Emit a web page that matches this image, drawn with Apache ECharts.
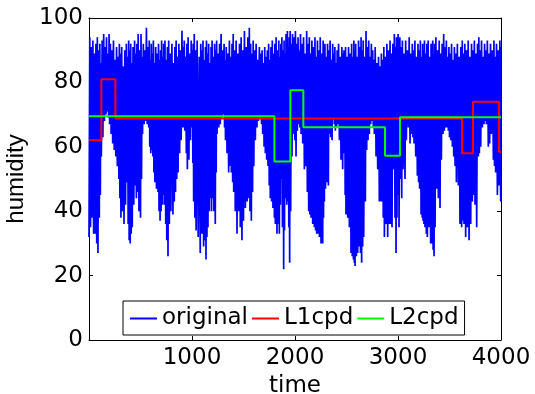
<!DOCTYPE html>
<html><head><meta charset="utf-8">
<script src="https://cdn.jsdelivr.net/npm/echarts@6/dist/echarts.min.js"></script>
<style>html,body{margin:0;padding:0;background:#fff}#c{width:535px;height:394px}</style>
</head><body><div id="c"></div>
<script>
// x tick labels / y tick labels
const xTicks = [1000, 2000, 3000, 4000];
const yTicks = [0, 20, 40, 60, 80, 100];

// original humidity signal, read as [time, local low, local high]
const original = [
[0,32,94],[15,35,91],[30,38,93],[45,33,89],[60,33,92],[75,30,94],[87,27,90],[100,38,92],[110,45,86],[120,57,93],[135,63,95],[150,68,91],[165,70,94],[175,71,89],[190,69,95],[200,67,92],[215,64,90],[230,61,93],[245,59,87],[260,57,91],[275,54,88],[290,50,92],[300,44,89],[310,38,91],[325,40,85],[340,36,90],[355,42,92],[370,49,88],[380,36,93],[390,31,90],[400,30,92],[410,33,86],[420,35,91],[435,42,93],[450,48,89],[460,44,92],[470,46,95],[485,40,90],[500,38,95],[510,50,88],[520,64,92],[535,67,90],[550,68,97],[565,67,91],[580,66,93],[590,60,87],[600,58,92],[610,59,89],[620,57,93],[630,52,86],[640,49,91],[655,47,89],[670,46,92],[680,40,87],[690,37,90],[700,40,93],[710,42,88],[720,45,92],[730,42,93],[745,36,87],[755,31,91],[767,26,93],[780,36,89],[795,40,92],[815,39,86],[828,43,91],[840,46,93],[852,50,88],[865,52,92],[880,58,90],[895,62,96],[910,66,91],[920,66,93],[930,65,88],[945,58,92],[955,53,94],[970,56,89],[985,62,93],[1000,66,90],
[1008,55,92],[1016,43,95],[1028,38,90],[1040,34,93],[1060,32,88],[1080,27,92],[1090,33,90],[1100,33,93],[1113,29,87],[1125,31,91],[1136,25,93],[1145,32,89],[1155,35,92],[1168,40,86],[1180,44,91],[1190,40,93],[1200,44,88],[1213,40,92],[1226,36,90],[1235,52,93],[1243,64,89],[1260,66,92],[1275,67,95],[1290,69,90],[1307,70,92],[1316,66,87],[1325,62,91],[1340,58,89],[1356,52,93],[1370,54,88],[1382,52,92],[1395,49,95],[1405,46,90],[1420,40,93],[1437,33,89],[1453,40,92],[1469,35,94],[1485,31,90],[1500,37,96],[1518,41,91],[1535,43,94],[1550,44,97],[1563,40,92],[1576,37,89],[1588,46,93],[1600,54,90],[1615,62,92],[1631,66,87],[1645,68,91],[1663,69,89],[1675,67,90],[1686,64,86],[1700,60,91],[1712,58,88],[1725,56,90],[1738,54,92],[1750,48,87],[1760,44,91],[1773,43,93],[1786,41,89],[1800,38,92],[1809,36,94],[1825,33,90],[1838,36,93],[1848,33,88],[1858,42,92],[1867,50,94],[1878,35,90],[1890,22,93],[1898,34,89],[1906,44,95],[1920,42,96],[1932,43,91],[1940,35,94],[1948,24,96],[1958,40,92],[1971,57,95],[1980,64,91],[1987,67,94],[1998,62,96],[2010,57,92],
[2023,65,94],[2036,67,90],[2048,66,95],[2059,64,92],[2075,61,94],[2091,53,89],[2107,54,96],[2120,46,92],[2133,40,94],[2145,39,89],[2156,38,93],[2172,36,91],[2188,35,94],[2200,34,88],[2211,33,93],[2225,33,90],[2237,32,94],[2253,30,89],[2269,30,93],[2277,38,91],[2285,43,92],[2296,47,88],[2308,49,92],[2324,48,90],[2334,64,93],[2347,63,87],[2360,62,92],[2372,69,89],[2382,67,91],[2392,65,86],[2404,66,90],[2415,67,92],[2431,62,88],[2447,56,91],[2463,53,89],[2472,58,90],[2479,59,86],[2487,45,91],[2495,39,88],[2512,38,91],[2528,35,89],[2544,27,92],[2556,26,88],[2567,25,93],[2576,24,90],[2583,23,92],[2596,26,88],[2609,27,93],[2625,29,91],[2636,27,94],[2647,24,90],[2657,29,93],[2667,32,88],[2683,43,96],[2696,59,91],[2709,62,93],[2722,64,88],[2735,67,92],[2748,68,90],[2760,66,87],[2770,64,91],[2787,57,86],[2803,53,88],[2819,43,85],[2832,43,89],[2845,43,87],[2857,38,91],[2868,32,88],[2884,36,92],[2900,32,90],[2916,36,93],[2930,36,89],[2942,35,92],[2958,53,95],[2971,38,91],[2981,27,94],[2990,38,90],[2997,47,95],[3005,45,92],[3010,35,94],
[3026,50,91],[3036,44,93],[3049,53,89],[3068,50,93],[3081,62,90],[3100,66,94],[3117,61,89],[3133,64,92],[3145,63,90],[3156,61,93],[3172,57,88],[3188,51,92],[3200,49,90],[3210,47,93],[3224,39,88],[3235,38,92],[3243,37,90],[3252,36,93],[3262,35,89],[3275,33,92],[3285,32,93],[3301,35,88],[3317,30,92],[3325,32,90],[3333,30,93],[3341,28,89],[3350,26,92],[3360,35,94],[3376,47,90],[3392,44,93],[3408,41,89],[3421,56,92],[3437,64,95],[3450,65,91],[3463,66,93],[3476,66,88],[3489,65,91],[3500,63,89],[3512,62,92],[3528,60,87],[3541,57,91],[3554,54,89],[3567,49,92],[3586,48,88],[3602,36,91],[3618,35,93],[3630,37,89],[3641,36,92],[3657,32,90],[3673,35,93],[3690,31,88],[3706,36,92],[3722,43,90],[3735,45,93],[3748,42,89],[3764,35,92],[3780,57,94],[3790,58,90],[3803,60,93],[3819,66,88],[3835,67,92],[3846,68,90],[3858,67,93],[3877,60,89],[3890,61,92],[3906,64,90],[3926,56,93],[3937,54,88],[3948,52,92],[3965,45,90],[3981,48,93],[3997,43,91]
];

// L1 change-point fit (value held from each time until the next)
const l1Time = [0, 120, 256, 3622, 3728, 3980, 4000];
const l1Hum  = [62, 81, 68.8, 58, 74, 58.5, 58.5];

// L2 change-point fit
const l2Time = [0, 1800, 1955, 2081, 2874, 3019, 4000];
const l2Hum  = [69.5, 55.4, 77.6, 66.1, 57.2, 69.2, 69.2];

const FONT = 'DejaVu Sans';
const origData = [];
for (let i = 0; i < original.length; i++) {
  const [t, lo, hi] = original[i];
  origData.push([t, lo]);
  const tn = i + 1 < original.length ? original[i + 1][0] : 4000;
  origData.push([(t + tn) / 2, hi]);
}
const l1Data = l1Time.map((t, i) => [t, l1Hum[i]]);
const l2Data = l2Time.map((t, i) => [t, l2Hum[i]]);

const chart = echarts.init(document.getElementById('c'), null, {renderer: 'canvas'});
const tickStyle = {inside: true, length: 4, lineStyle: {color: '#000', width: 1}};
chart.setOption({
  animation: false,
  backgroundColor: '#fff',
  grid: {left: 89, right: 34, top: 18, bottom: 54, outerBoundsMode: 'none', containLabel: false},
  xAxis: [
    {type: 'value', min: 0, max: 4000, interval: 1000,
     name: 'time', nameLocation: 'middle', nameGap: 29,
     nameTextStyle: {fontFamily: FONT, fontSize: 23, color: '#000'},
     axisLine: {onZero: false, lineStyle: {color: '#000', width: 1}},
     axisTick: tickStyle,
     axisLabel: {fontFamily: FONT, fontSize: 23, color: '#000', margin: 7,
       formatter: v => xTicks.includes(v) ? String(v) : ''},
     splitLine: {show: false}},
    {type: 'value', position: 'top', min: 0, max: 4000, interval: 1000,
     axisLine: {onZero: false, lineStyle: {color: '#000', width: 1}},
     axisTick: tickStyle, axisLabel: {show: false}, splitLine: {show: false}}
  ],
  yAxis: [
    {type: 'value', min: 0, max: 100, interval: 20,
     name: 'humidity', nameLocation: 'middle', nameGap: 46, nameRotate: 90,
     nameTextStyle: {fontFamily: 'Liberation Sans', fontSize: 24, color: '#000'},
     axisLine: {show: true, onZero: false, lineStyle: {color: '#000', width: 1}},
     axisTick: tickStyle,
     axisLabel: {fontFamily: FONT, fontSize: 23, color: '#000', margin: 6,
       formatter: v => yTicks.includes(v) ? String(v) : ''},
     splitLine: {show: false}},
    {type: 'value', position: 'right', min: 0, max: 100, interval: 20,
     axisLine: {show: true, onZero: false, lineStyle: {color: '#000', width: 1}},
     axisTick: tickStyle, axisLabel: {show: false}, splitLine: {show: false}}
  ],
  legend: {
    left: 123, top: 301, orient: 'horizontal',
    icon: 'rect', itemWidth: 27, itemHeight: 2, itemGap: 4,
    padding: [6, 6, 5, 7],
    borderColor: '#000', borderWidth: 1, backgroundColor: '#fff',
    textStyle: {fontFamily: FONT, fontSize: 23, color: '#000'},
    data: ['original', 'L1cpd', 'L2cpd']
  },
  series: [
    {name: 'original', type: 'line', data: origData, symbol: 'none', silent: true,
     lineStyle: {color: '#0000ff', width: 1.7}, itemStyle: {color: '#0000ff'}},
    {name: 'L1cpd', type: 'line', step: 'end', data: l1Data, symbol: 'none', silent: true,
     lineStyle: {color: '#ff0000', width: 2}, itemStyle: {color: '#ff0000'}},
    {name: 'L2cpd', type: 'line', step: 'end', data: l2Data, symbol: 'none', silent: true,
     lineStyle: {color: '#00ff00', width: 2}, itemStyle: {color: '#00ff00'}}
  ]
});
</script>
</body></html>
